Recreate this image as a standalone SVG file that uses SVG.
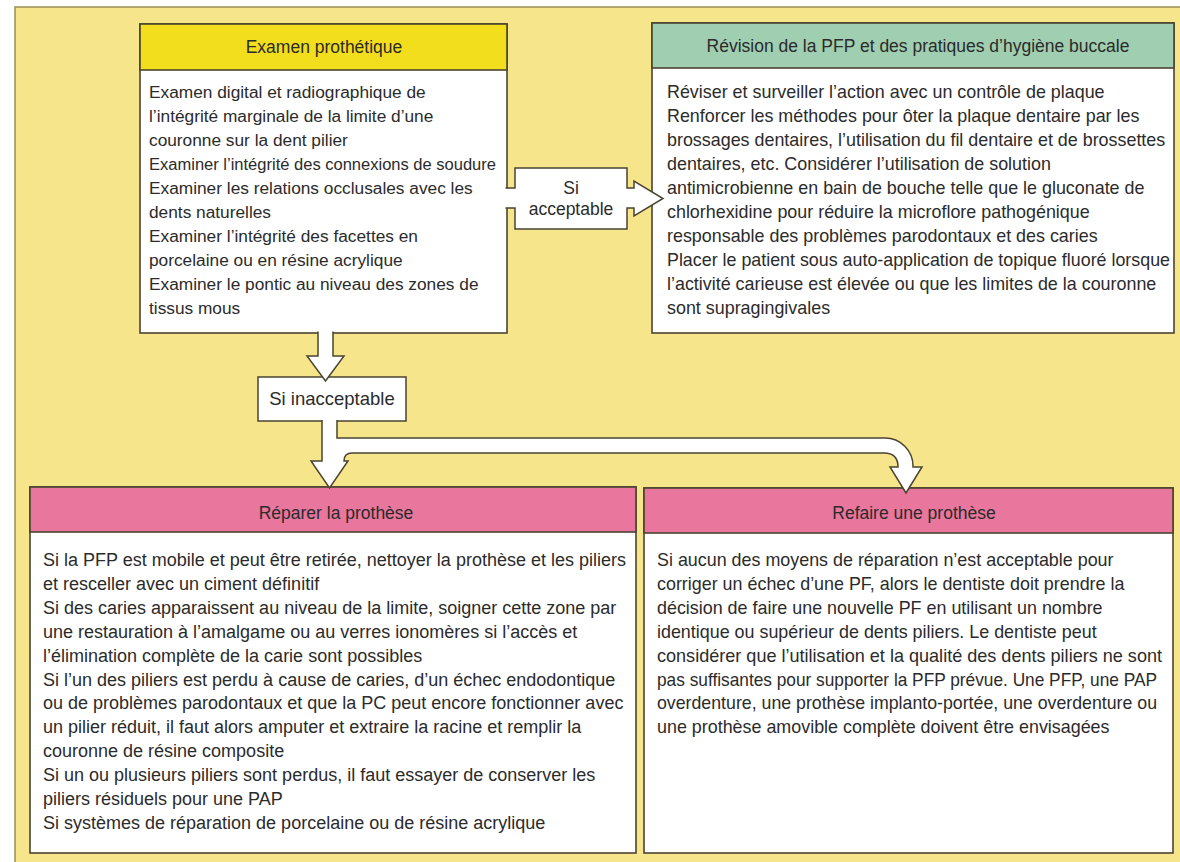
<svg xmlns="http://www.w3.org/2000/svg" width="1180" height="862" viewBox="0 0 1180 862">
<style>
.bg{fill:#f7e58c;stroke:#9a8f55;stroke-width:1.5}
.box{fill:#ffffff;stroke:#4a4430;stroke-width:1.6}
.hdr{stroke:#4a4430;stroke-width:1.6}
.yel{fill:#f3de1e}
.teal{fill:#9fceb0}
.pink{fill:#e8769d}
.conn{fill:#ffffff;stroke:#4a4430;stroke-width:1.5;stroke-linejoin:miter}
text{font-family:"Liberation Sans",Arial,sans-serif;fill:#2b2b2b}
.t{font-size:17.5px;text-anchor:middle}
.b1{font-size:17.3px}
.b2{font-size:17.9px}
.b3{font-size:18px}
.b4{font-size:17.9px}
.l{font-size:17.5px;text-anchor:middle}
.l2{font-size:18.5px;text-anchor:middle}
</style>
<rect class="bg" x="15" y="7" width="1180" height="870"/>

<g id="examen">
<rect class="box" x="140" y="24" width="367" height="309"/>
<rect class="yel hdr" x="140" y="24" width="367" height="46"/>
<text class="t" x="324" y="53">Examen prothétique</text>
<text class="b1" x="149" y="98">Examen digital et radiographique de</text>
<text class="b1" x="149" y="122">l’intégrité marginale de la limite d’une</text>
<text class="b1" x="149" y="146">couronne sur la dent pilier</text>
<text class="b1" x="149" y="170" textLength="347" lengthAdjust="spacingAndGlyphs">Examiner l’intégrité des connexions de soudure</text>
<text class="b1" x="149" y="194">Examiner les relations occlusales avec les</text>
<text class="b1" x="149" y="218">dents naturelles</text>
<text class="b1" x="149" y="242">Examiner l’intégrité des facettes en</text>
<text class="b1" x="149" y="266">porcelaine ou en résine acrylique</text>
<text class="b1" x="149" y="290">Examiner le pontic au niveau des zones de</text>
<text class="b1" x="149" y="314">tissus mous</text>
</g>

<g id="revision">
<rect class="box" x="652" y="23" width="522" height="310"/>
<rect class="teal hdr" x="652" y="23" width="522" height="45"/>
<text class="t" x="918" y="52">Révision de la PFP et des pratiques d’hygiène buccale</text>
<text class="b2" x="667" y="98">Réviser et surveiller l’action avec un contrôle de plaque</text>
<text class="b2" x="667" y="122">Renforcer les méthodes pour ôter la plaque dentaire par les</text>
<text class="b2" x="667" y="146">brossages dentaires, l’utilisation du fil dentaire et de brossettes</text>
<text class="b2" x="667" y="170">dentaires, etc. Considérer l’utilisation de solution</text>
<text class="b2" x="667" y="194">antimicrobienne en bain de bouche telle que le gluconate de</text>
<text class="b2" x="667" y="218">chlorhexidine pour réduire la microflore pathogénique</text>
<text class="b2" x="667" y="242">responsable des problèmes parodontaux et des caries</text>
<text class="b2" x="667" y="266" textLength="503" lengthAdjust="spacingAndGlyphs">Placer le patient sous auto-application de topique fluoré lorsque</text>
<text class="b2" x="667" y="290">l’activité carieuse est élevée ou que les limites de la couronne</text>
<text class="b2" x="667" y="314">sont supragingivales</text>
</g>

<g id="reparer">
<rect class="box" x="30" y="487" width="606" height="366"/>
<rect class="pink hdr" x="30" y="487" width="606" height="45"/>
<text class="t" x="336" y="519">Réparer la prothèse</text>
<text class="b3" x="43" y="566">Si la PFP est mobile et peut être retirée, nettoyer la prothèse et les piliers</text>
<text class="b3" x="43" y="589.9">et resceller avec un ciment définitif</text>
<text class="b3" x="43" y="613.8">Si des caries apparaissent au niveau de la limite, soigner cette zone par</text>
<text class="b3" x="43" y="637.7">une restauration à l’amalgame ou au verres ionomères si l’accès et</text>
<text class="b3" x="43" y="661.6">l’élimination complète de la carie sont possibles</text>
<text class="b3" x="43" y="685.5">Si l’un des piliers est perdu à cause de caries, d’un échec endodontique</text>
<text class="b3" x="43" y="709.4">ou de problèmes parodontaux et que la PC peut encore fonctionner avec</text>
<text class="b3" x="43" y="733.3">un pilier réduit, il faut alors amputer et extraire la racine et remplir la</text>
<text class="b3" x="43" y="757.2">couronne de résine composite</text>
<text class="b3" x="43" y="781.1">Si un ou plusieurs piliers sont perdus, il faut essayer de conserver les</text>
<text class="b3" x="43" y="805">piliers résiduels pour une PAP</text>
<text class="b3" x="43" y="828.9">Si systèmes de réparation de porcelaine ou de résine acrylique</text>
</g>

<g id="refaire">
<rect class="box" x="644" y="488" width="529" height="365"/>
<rect class="pink hdr" x="644" y="488" width="529" height="45"/>
<text class="t" x="914" y="519">Refaire une prothèse</text>
<text class="b4" x="657" y="566">Si aucun des moyens de réparation n’est acceptable pour</text>
<text class="b4" x="657" y="589.9">corriger un échec d’une PF, alors le dentiste doit prendre la</text>
<text class="b4" x="657" y="613.8">décision de faire une nouvelle PF en utilisant un nombre</text>
<text class="b4" x="657" y="637.7">identique ou supérieur de dents piliers. Le dentiste peut</text>
<text class="b4" x="657" y="661.6" textLength="505" lengthAdjust="spacingAndGlyphs">considérer que l’utilisation et la qualité des dents piliers ne sont</text>
<text class="b4" x="657" y="685.5" textLength="500" lengthAdjust="spacingAndGlyphs">pas suffisantes pour supporter la PFP prévue. Une PFP, une PAP</text>
<text class="b4" x="657" y="709.4" textLength="500" lengthAdjust="spacingAndGlyphs">overdenture, une prothèse implanto-portée, une overdenture ou</text>
<text class="b4" x="657" y="733.3">une prothèse amovible complète doivent être envisagées</text>
</g>

<g id="connectors">
<path class="conn" d="M505.5,188 L515,188 L515,168 L627,168 L627,188 L634,188 L634,181 L663,198.5 L634,216 L634,208 L627,208 L627,229 L515,229 L515,208 L505.5,208"/>
<text class="l" x="571" y="194">Si</text>
<text class="l" x="571" y="215">acceptable</text>
<rect class="conn" x="258" y="377" width="148" height="44"/>
<text class="l2" x="332" y="405">Si inacceptable</text>
<path class="conn" d="M318,331.5 L318,356 L307,356 L325.5,381 L344,356 L333,356 L333,331.5"/>
<path class="conn" d="M322,420 L322,461 L311,461 L329.5,488 L348,461 L344,461 Q344,453 352,453 L884,453 Q898,453 898,467 L890,467 L906,493 L922,467 L913,467 L913,466 A28,28 0 0 0 885,438 L337,438 L337,420"/>
</g>
</svg>
